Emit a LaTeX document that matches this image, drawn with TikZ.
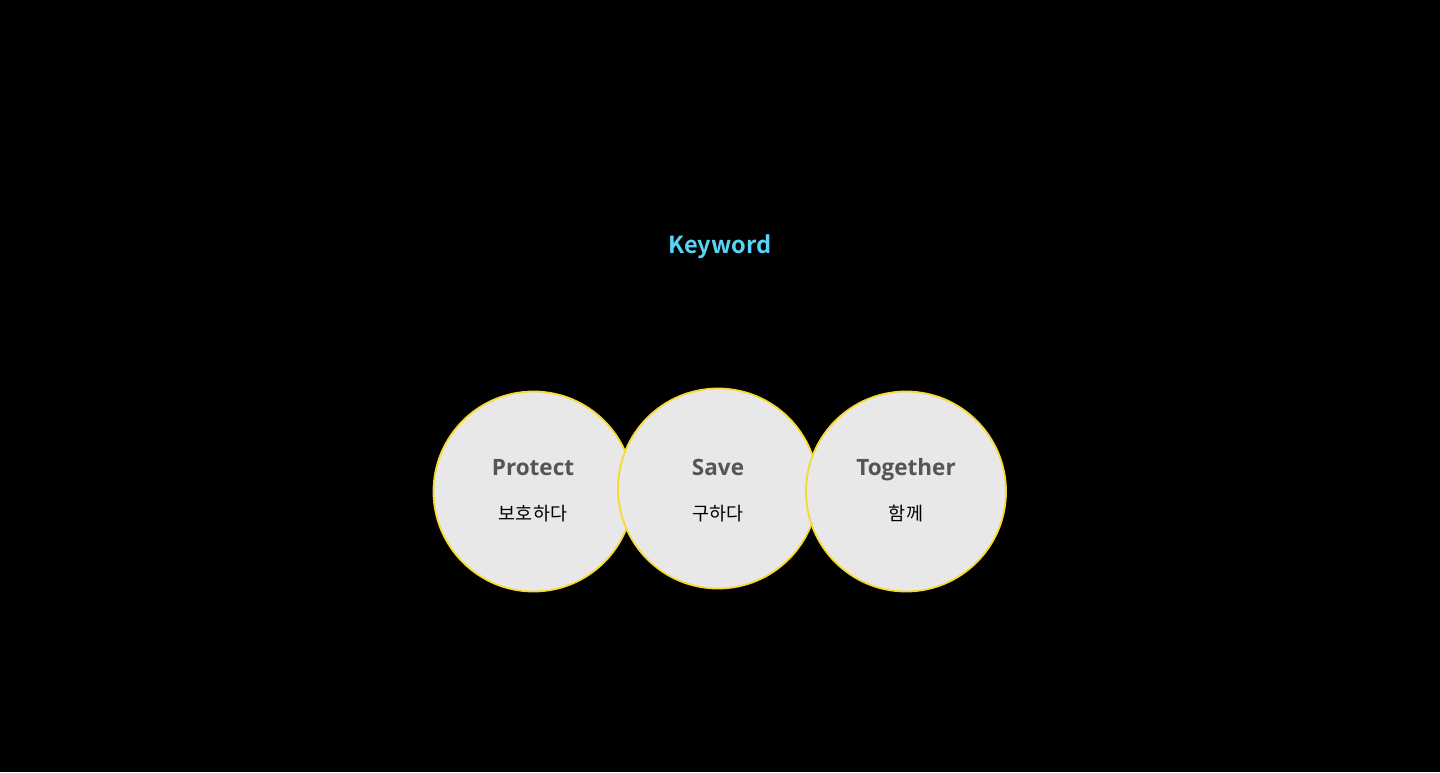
\documentclass[tikz,border=0pt]{standalone}
\usepackage{fontspec}
\newfontfamily\titlefont{Noto Sans CJK KR Bold}
\newfontfamily\labfont{Open Sans}
\newfontfamily\krfont{Noto Sans CJK KR}
\definecolor{titlecyan}{HTML}{5AD4F6}
\definecolor{circfill}{HTML}{E8E8E8}
\definecolor{circline}{HTML}{F5DA30}
\definecolor{labgray}{HTML}{555555}
\tikzset{
  x=1pt,y=-1pt,
  kwcircle/.style={circle,minimum size=200pt,inner sep=0pt,fill=circfill,draw=circline,line width=1.8pt},
  entext/.style={anchor=base,font=\labfont\bfseries\fontsize{22.5}{26}\selectfont,text=labgray},
  krtext/.style={anchor=base,font=\krfont\fontsize{18.5}{21}\selectfont,text=black},
  titletext/.style={anchor=base,font=\titlefont\fontsize{23.5}{28}\selectfont,text=titlecyan}
}
\begin{document}
\begin{tikzpicture}
\fill[black] (0,0) rectangle (1440,772);
\useasboundingbox (0,0) rectangle (1440,772);
\node[titletext] (title) at (720,253) {Keyword};
\node[kwcircle] (c1) at (533.5,491.5) {};
\node[kwcircle] (c2) at (718,488.5) {};
\node[kwcircle] (c3) at (906,491.5) {};
\node[entext] (e1) at (533,475.5) {Protect};
\node[krtext] (k1) at (533,520.5) {보호하다};
\node[entext] (e2) at (718,475.5) {Save};
\node[krtext] (k2) at (718,520.5) {구하다};
\node[entext] (e3) at (906,475.5) {Together};
\node[krtext] (k3) at (906,520.5) {함께};
\end{tikzpicture}
\end{document}
